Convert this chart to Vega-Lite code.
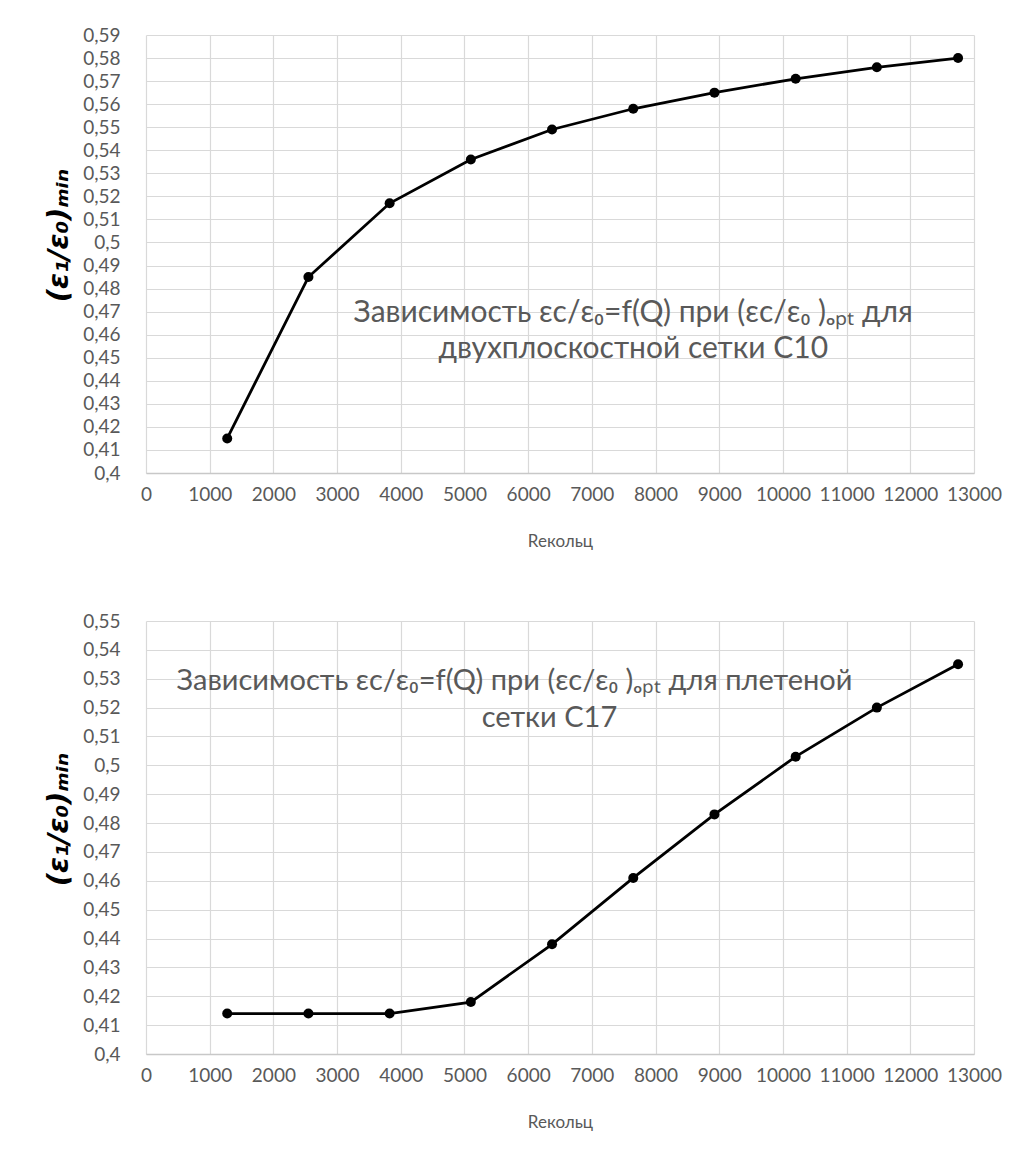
{
  "$schema": "https://vega.github.io/schema/vega-lite/v6.json",
  "background": "white",
  "padding": {"left": 44, "top": 26, "right": 5, "bottom": 5},
  "spacing": 63,
  "config": {
    "locale": {"number": {"decimal": ",", "thousands": "", "grouping": [3], "currency": ["", ""]}},
    "view": {"stroke": null},
    "font": "Lato",
    "axis": {
      "labelFont": "Lato",
      "labelFontSize": 19,
      "labelColor": "#595959",
      "labelOverlap": false,
      "labelFlush": false,
      "tickCount": 30,
      "ticks": false,
      "gridColor": "#d9d9d9",
      "gridWidth": 1.2,
      "domainColor": "#c8c8c8",
      "domainWidth": 1.5
    }
  },
  "datasets": {
    "c10": [
      {"re": 1275, "eps": 0.415},
      {"re": 2550, "eps": 0.485},
      {"re": 3825, "eps": 0.517},
      {"re": 5100, "eps": 0.536},
      {"re": 6375, "eps": 0.549},
      {"re": 7650, "eps": 0.558},
      {"re": 8925, "eps": 0.565},
      {"re": 10200, "eps": 0.571},
      {"re": 11475, "eps": 0.576},
      {"re": 12750, "eps": 0.58}
    ],
    "c17": [
      {"re": 1275, "eps": 0.414},
      {"re": 2550, "eps": 0.414},
      {"re": 3825, "eps": 0.414},
      {"re": 5100, "eps": 0.418},
      {"re": 6375, "eps": 0.438},
      {"re": 7650, "eps": 0.461},
      {"re": 8925, "eps": 0.483},
      {"re": 10200, "eps": 0.503},
      {"re": 11475, "eps": 0.52},
      {"re": 12750, "eps": 0.535}
    ],
    "note10": [
      {"re": 7650, "eps": 0.4694, "label": "Зависимость εc/ε₀=f(Q)  при (εc/ε₀ )ₒₚₜ для"},
      {"re": 7650, "eps": 0.4537, "label": "двухплоскостной сетки С10"}
    ],
    "note17": [
      {"re": 5785, "eps": 0.5292, "label": "Зависимость εc/ε₀=f(Q)  при (εc/ε₀ )ₒₚₜ для плетеной"},
      {"re": 6335, "eps": 0.5165, "label": "сетки С17"}
    ]
  },
  "vconcat": [
    {
      "width": 828,
      "height": 438,
      "layer": [
        {
          "data": {"name": "c10"},
          "mark": {"type": "line", "color": "black", "strokeWidth": 2.8},
          "encoding": {
            "x": {"field": "re", "type": "quantitative",
              "scale": {"domain": [0, 13000], "nice": false, "zero": false},
              "axis": {"title": "Reкольц", "values": [0,1000,2000,3000,4000,5000,6000,7000,8000,9000,10000,11000,12000,13000], "format": "d", "labelPadding": 12, "titlePadding": 29, "titleFont": "Lato", "titleFontSize": 17, "titleFontWeight": "normal", "titleColor": "#595959"}},
            "y": {"field": "eps", "type": "quantitative",
              "scale": {"domain": [0.4, 0.59], "nice": false, "zero": false},
              "axis": {"title": "(ε₁/ε₀)ₘᵢₙ", "values": [0.4,0.41,0.42,0.43,0.44,0.45,0.46,0.47,0.48,0.49,0.5,0.51,0.52,0.53,0.54,0.55,0.56,0.57,0.58,0.59], "format": ".2~f", "labelPadding": 26, "titlePadding": 9, "titleY": 200, "titleFont": "DejaVu Sans", "titleFontSize": 29, "titleFontStyle": "italic", "titleFontWeight": "bold", "titleColor": "black", "domain": false}}
          }
        },
        {
          "data": {"name": "c10"},
          "mark": {"type": "circle", "color": "black", "size": 100, "opacity": 1},
          "encoding": {
            "x": {"field": "re", "type": "quantitative"},
            "y": {"field": "eps", "type": "quantitative"}
          }
        },
        {
          "data": {"name": "note10"},
          "mark": {"type": "text", "font": "Lato", "fontSize": 30, "color": "#595959", "align": "center", "baseline": "middle"},
          "encoding": {
            "x": {"field": "re", "type": "quantitative"},
            "y": {"field": "eps", "type": "quantitative"},
            "text": {"field": "label"}
          }
        }
      ]
    },
    {
      "width": 828,
      "height": 433,
      "layer": [
        {
          "data": {"name": "c17"},
          "mark": {"type": "line", "color": "black", "strokeWidth": 2.8},
          "encoding": {
            "x": {"field": "re", "type": "quantitative",
              "scale": {"domain": [0, 13000], "nice": false, "zero": false},
              "axis": {"title": "Reкольц", "values": [0,1000,2000,3000,4000,5000,6000,7000,8000,9000,10000,11000,12000,13000], "format": "d", "labelPadding": 12, "titlePadding": 29, "titleFont": "Lato", "titleFontSize": 17, "titleFontWeight": "normal", "titleColor": "#595959"}},
            "y": {"field": "eps", "type": "quantitative",
              "scale": {"domain": [0.4, 0.55], "nice": false, "zero": false},
              "axis": {"title": "(ε₁/ε₀)ₘᵢₙ", "values": [0.4,0.41,0.42,0.43,0.44,0.45,0.46,0.47,0.48,0.49,0.5,0.51,0.52,0.53,0.54,0.55], "format": ".2~f", "labelPadding": 26, "titlePadding": 9, "titleY": 198, "titleFont": "DejaVu Sans", "titleFontSize": 29, "titleFontStyle": "italic", "titleFontWeight": "bold", "titleColor": "black", "domain": false}}
          }
        },
        {
          "data": {"name": "c17"},
          "mark": {"type": "circle", "color": "black", "size": 100, "opacity": 1},
          "encoding": {
            "x": {"field": "re", "type": "quantitative"},
            "y": {"field": "eps", "type": "quantitative"}
          }
        },
        {
          "data": {"name": "note17"},
          "mark": {"type": "text", "font": "Lato", "fontSize": 29, "color": "#595959", "align": "center", "baseline": "middle"},
          "encoding": {
            "x": {"field": "re", "type": "quantitative"},
            "y": {"field": "eps", "type": "quantitative"},
            "text": {"field": "label"}
          }
        }
      ]
    }
  ]
}
